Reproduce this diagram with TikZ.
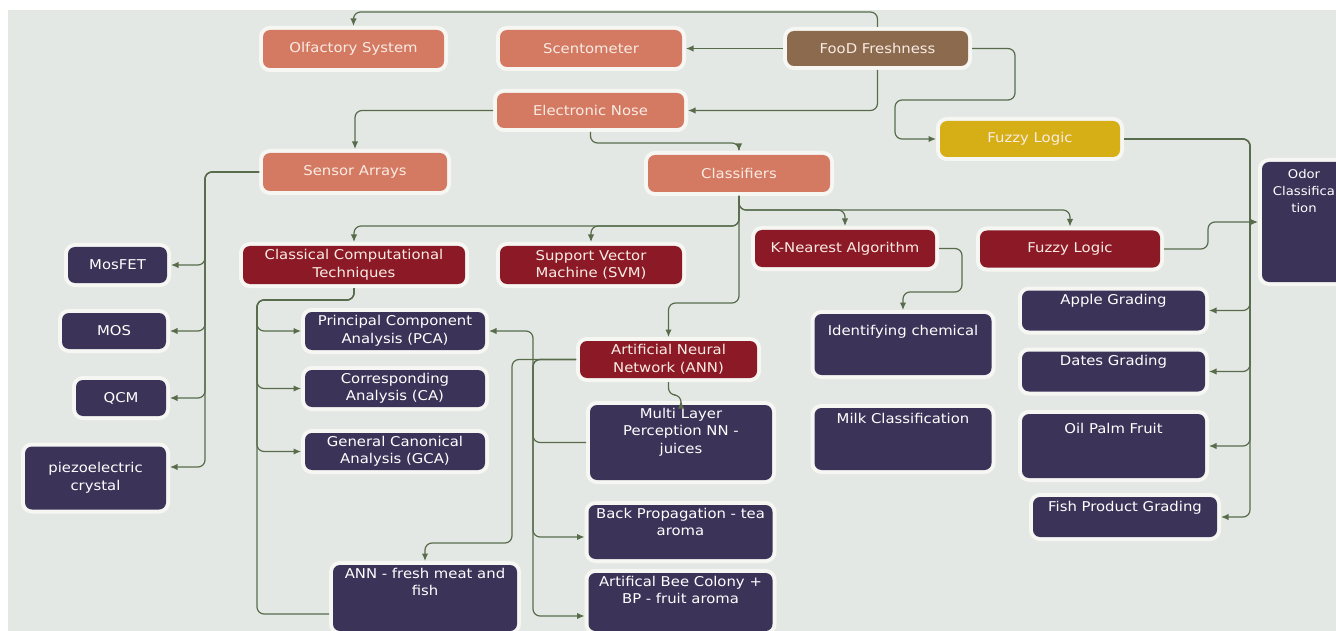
\documentclass[tikz,border=0pt]{standalone}
\usepackage{fontspec}
\setmainfont[FakeStretch=1.1]{DejaVu Sans}
\usetikzlibrary{arrows.meta,calc}
\definecolor{bgc}{RGB}{228,232,228}
\definecolor{salmon}{RGB}{212,122,98}
\definecolor{brownc}{RGB}{139,106,78}
\definecolor{yellowc}{RGB}{214,174,22}
\definecolor{redc}{RGB}{140,26,38}
\definecolor{navy}{RGB}{60,51,88}
\definecolor{linec}{RGB}{88,108,76}
\definecolor{haloc}{RGB}{246,246,243}
\definecolor{lighttext}{RGB}{250,236,228}
\newcommand\tp[3]{\parbox[t][#2pt][t]{#1pt}{\centering #3}}
\begin{document}
\begin{tikzpicture}[x=1pt,y=-1pt,
  every node/.style={font=\fontsize{13.5}{17.5}\selectfont},
  bx/.style={rounded corners=7pt, align=center, inner sep=3pt, outer sep=4pt,
    preaction={draw=haloc, line width=8pt}},
  sal/.style={bx, fill=salmon, text=lighttext},
  brn/.style={bx, fill=brownc, text=lighttext},
  yel/.style={bx, fill=yellowc, text=lighttext},
  dred/.style={bx, fill=redc, text=lighttext},
  nav/.style={bx, fill=navy, text=white},
  conn/.style={draw=linec, line width=1.2pt, rounded corners=7pt},
  arr/.style={conn, -{Latex[length=7.5pt,width=6.5pt]}}]
\useasboundingbox (0,0) rectangle (1336,631);
\fill[white] (0,0) rectangle (1336,631);
\fill[bgc] (8,10) rectangle (1336,631);
% top level
\node[sal, minimum width=181, minimum height=38] (olf) at (353.5,49) {Olfactory System};
\node[sal, minimum width=182, minimum height=37] (scent) at (591,48.5) {Scentometer};
\node[brn, minimum width=181, minimum height=35] (ff) at (877.5,48.5) {FooD Freshness};
\node[sal, minimum width=187, minimum height=35] (en) at (590.5,110.5) {Electronic Nose};
\node[yel, minimum width=180, minimum height=36] (fy) at (1030,139) {Fuzzy Logic};
\node[sal, minimum width=184, minimum height=38] (sensor) at (355,172) {Sensor Arrays};
\node[sal, minimum width=182, minimum height=37] (classif) at (739,173.5) {Classifiers};
% sensors
\node[nav, minimum width=99, minimum height=36] (mosfet) at (117.5,265) {MosFET};
\node[nav, minimum width=104, minimum height=36] (mos) at (114,331) {MOS};
\node[nav, minimum width=90, minimum height=36] (qcm) at (121,398) {QCM};
\node[nav, minimum width=141, minimum height=63] (piezo) at (95.5,478) {piezoelectric\\crystal};
% classifiers
\node[dred, minimum width=222, minimum height=38, inner sep=1pt] (classical) at (354,265) {Classical Computational\\Techniques};
\node[dred, minimum width=182, minimum height=38, inner sep=1pt] (svm) at (591,265) {Support Vector\\Machine (SVM)};
\node[dred, minimum width=180, minimum height=37] (knn) at (845,248.5) {K-Nearest Algorithm};
\node[dred, minimum width=180, minimum height=37] (fr) at (1070,249) {Fuzzy Logic};
\node[nav, minimum width=180, minimum height=38, inner sep=1pt] (pca) at (395,331) {Principal Component\\Analysis (PCA)};
\node[nav, minimum width=180, minimum height=37, inner sep=1pt] (ca) at (395,388.5) {Corresponding\\Analysis (CA)};
\node[nav, minimum width=180, minimum height=37, inner sep=1pt] (gca) at (395,451.5) {General Canonical\\Analysis (GCA)};
\node[dred, minimum width=177, minimum height=37, inner sep=1pt] (ann) at (668.5,359.5) {Artificial Neural\\Network (ANN)};
\node[nav, minimum width=177, minimum height=61] (idchem) at (903,344.5) {\tp{171}{55}{\vspace*{8pt}Identifying chemical}};
\node[nav, minimum width=177, minimum height=62] (milk) at (903,439) {\tp{171}{56}{\vspace*{2pt}Milk Classification}};
\node[nav, minimum width=178, minimum height=75] (mlp) at (681,442.5) {\tp{176}{69}{Multi Layer\\Perception NN -\\juices}};
\node[nav, minimum width=179, minimum height=54] (bp) at (680.5,532) {\tp{178}{48}{Back Propagation - tea\\aroma}};
\node[nav, minimum width=179, minimum height=58] (abc) at (680.5,602) {\tp{178}{52}{Artifical Bee Colony +\\BP - fruit aroma}};
\node[nav, minimum width=180, minimum height=66] (meat) at (425,598) {\tp{178}{60}{ANN - fresh meat and\\fish}};
% fuzzy outputs
\node[nav, minimum width=183, minimum height=40] (apple) at (1113.5,310.5) {\tp{177}{34}{\vspace*{1pt}Apple Grading}};
\node[nav, minimum width=183, minimum height=40] (dates) at (1113.5,371.5) {\tp{177}{34}{\vspace*{1pt}Dates Grading}};
\node[nav, minimum width=183, minimum height=64] (oil) at (1113.5,446) {\tp{177}{58}{\vspace*{6pt}Oil Palm Fruit}};
\node[nav, minimum width=180, minimum height=40] (fish) at (1125,517) {\tp{178}{34}{\vspace*{1pt}Fish Product Grading}};
\node[nav, minimum width=84, minimum height=120, anchor=west, inner sep=1pt] (odor) at (1258,222) {\tp{72}{118}{\fontsize{12}{17}\selectfont\vspace*{6pt}Odor\\Classifica\\tion}};
% connectors
\draw[arr] (ff.north) |- (353.5,12) -- (olf.north);
\draw[arr] (ff.west) -- (scent.east);
\draw[arr] (ff.south) |- (en.east);
\draw[arr] (ff.east) -| (1015,100) -| (895,139) -- (fy.west);
\draw[arr] (en.west) -| (sensor.north);
\draw[arr] (en.south) -- (590.5,143) -| (classif.north);
\draw[arr] (sensor.west) -| (205,265) -- (mosfet.east);
\draw[arr] (sensor.west) -| (205,331) -- (mos.east);
\draw[arr] (sensor.west) -| (205,398) -- (qcm.east);
\draw[arr] (sensor.west) -| (205,467) -- (piezo.east |- 0,467);
\draw[arr] (classif.south) -- (739,226) -| (classical.north);
\draw[arr] (classif.south) -- (739,226) -| (svm.north);
\draw[arr] (classif.south) -- (739,210) -| (knn.north);
\draw[arr] (classif.south) -- (739,210) -| (fr.north);
\draw[arr] (classif.south) -- (739,303) -| (ann.north);
\draw[arr] (knn.east) -| (962,292) -| (idchem.north);
\draw[arr] (fr.east) -| (1208,222) -- (odor.west);
\draw[arr] (fy.east) -| (1250,310.5) -- (apple.east);
\draw[arr] (fy.east) -| (1250,371.5) -- (dates.east);
\draw[arr] (fy.east) -| (1250,446) -- (oil.east);
\draw[arr] (fy.east) -| (1250,517) -- (fish.east);
\draw[arr] (classical.south) -- (354,300) -| (257,331) -- (pca.west);
\draw[arr] (classical.south) -- (354,300) -| (257,388.5) -- (ca.west);
\draw[arr] (classical.south) -- (354,300) -| (257,451.5) -- (gca.west);
\draw[conn] (classical.south) -- (354,300) -| (257,614) -- (meat.west |- 0,614);
\draw[arr] (ann.south) -- (668.5,395) -| (mlp.north);
\draw[arr] (ann.west) -| (512,543) -| (meat.north);
\draw[arr] (ann.west) -| (533,537) -- (bp.west |- 0,537);
\draw[arr] (ann.west) -| (533,616) -- (abc.west |- 0,616);
\draw[arr] (mlp.west) -| (533,331) -- (pca.east);
\end{tikzpicture}
\end{document}
